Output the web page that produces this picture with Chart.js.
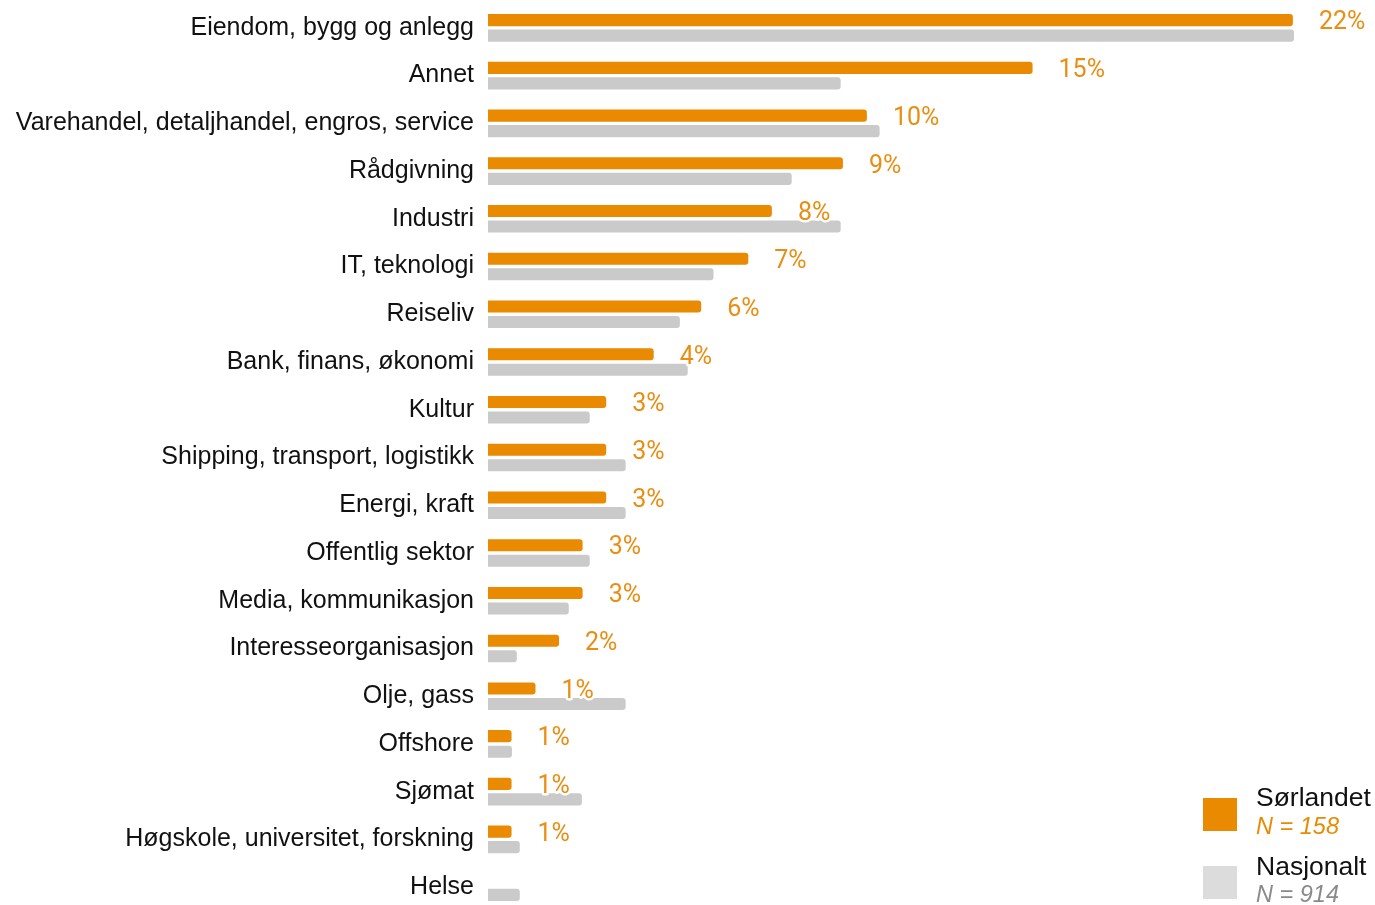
<!DOCTYPE html>
<html>
<head>
<meta charset="utf-8">
<script src="https://cdn.jsdelivr.net/npm/chart.js@4"></script>
<style>
  html, body { margin: 0; padding: 0; background: #fff; overflow: hidden; }
  #wrap { position: relative; width: 1375px; height: 905px; overflow: hidden; }
  #chart { position: absolute; left: 0; top: 0; }
  .key { position: absolute; left: 1203px; width: 34px; height: 33px; }
  .ltxt { position: absolute; left: 1256px; font-family: "Liberation Sans", Arial, sans-serif; white-space: nowrap; }
  .lname { font-size: 26.5px; color: #111; }
  .ln { font-size: 23.5px; font-style: italic; }
</style>
</head>
<body>
<div id="wrap">
  <canvas id="chart" width="1375" height="912"></canvas>
  <div class="key" style="top:798px;background:#E98A00"></div>
  <div class="ltxt lname" style="top:782px">Sørlandet</div>
  <div class="ltxt ln" style="top:813px;color:#E98A00">N = 158</div>
  <div class="key" style="top:866px;background:#DCDCDC"></div>
  <div class="ltxt lname" style="top:851px">Nasjonalt</div>
  <div class="ltxt ln" style="top:881px;color:#8a8a8a">N = 914</div>
</div>
<script>
// Bransjer (sectors), top to bottom
const categories = [
  'Eiendom, bygg og anlegg',
  'Annet',
  'Varehandel, detaljhandel, engros, service',
  'Rådgivning',
  'Industri',
  'IT, teknologi',
  'Reiseliv',
  'Bank, finans, økonomi',
  'Kultur',
  'Shipping, transport, logistikk',
  'Energi, kraft',
  'Offentlig sektor',
  'Media, kommunikasjon',
  'Interesseorganisasjon',
  'Olje, gass',
  'Offshore',
  'Sjømat',
  'Høgskole, universitet, forskning',
  'Helse'
];

// Share of respondents in percent, Sørlandet (N = 158)
const sorlandet = [21.52, 14.56, 10.13, 9.49, 7.59, 6.96, 5.70, 4.43, 3.16, 3.16, 3.16, 2.53, 2.53, 1.90, 1.27, 0.63, 0.63, 0.63, 0];

// Share of respondents in percent, national sample (N = 914)
const nasjonalt = [21.55, 9.43, 10.47, 8.12, 9.43, 6.03, 5.13, 5.34, 2.72, 3.68, 3.68, 2.72, 2.16, 0.77, 3.68, 0.64, 2.51, 0.85, 0.85];

const ORANGE = '#E98A00';
const LABEL_ORANGE = '#EA8E12';
const GREY = '#CACACA';

// Percentage labels after the Sørlandet bars, with a white halo
const valueLabels = {
  id: 'valueLabels',
  afterDatasetsDraw(chart) {
    const ctx = chart.ctx;
    const meta = chart.getDatasetMeta(0);
    ctx.save();
    ctx.font = '400 25px Roboto';
    ctx.textBaseline = 'middle';
    ctx.textAlign = 'left';
    ctx.lineJoin = 'round';
    meta.data.forEach((bar, i) => {
      const v = sorlandet[i];
      if (!v) return;
      const txt = Math.round(v) + '%';
      const x = bar.x + 26;
      const y = bar.y + 3;
      ctx.strokeStyle = '#fff';
      ctx.lineWidth = 5;
      ctx.strokeText(txt, x, y);
      ctx.fillStyle = LABEL_ORANGE;
      ctx.fillText(txt, x, y);
    });
    ctx.restore();
  }
};

const barStyle = {
  borderRadius: 3,
  categoryPercentage: 0.65,
  barPercentage: 0.78
};

new Chart(document.getElementById('chart'), {
  type: 'bar',
  data: {
    labels: categories,
    datasets: [
      Object.assign({
        label: 'Sørlandet',
        data: sorlandet.map(v => (v === 0 ? null : v)),
        backgroundColor: ORANGE
      }, barStyle),
      Object.assign({
        label: 'Nasjonalt',
        data: nasjonalt,
        backgroundColor: GREY
      }, barStyle)
    ]
  },
  options: {
    indexAxis: 'y',
    responsive: false,
    animation: false,
    layout: { padding: { top: 4, right: 81, bottom: 1, left: 0 } },
    plugins: {
      legend: { display: false },
      tooltip: { enabled: false }
    },
    scales: {
      x: {
        display: false,
        min: 0,
        max: 21.55
      },
      y: {
        grid: { display: false },
        border: { display: false },
        ticks: {
          color: '#111',
          padding: 6,
          font: { family: '"Liberation Sans", Arial, sans-serif', size: 25 }
        },
        afterFit(scale) {
          scale.width = 488;
          scale.paddingTop = 0;
          scale.paddingBottom = 0;
        }
      }
    }
  },
  plugins: [valueLabels]
});
</script>
</body>
</html>
